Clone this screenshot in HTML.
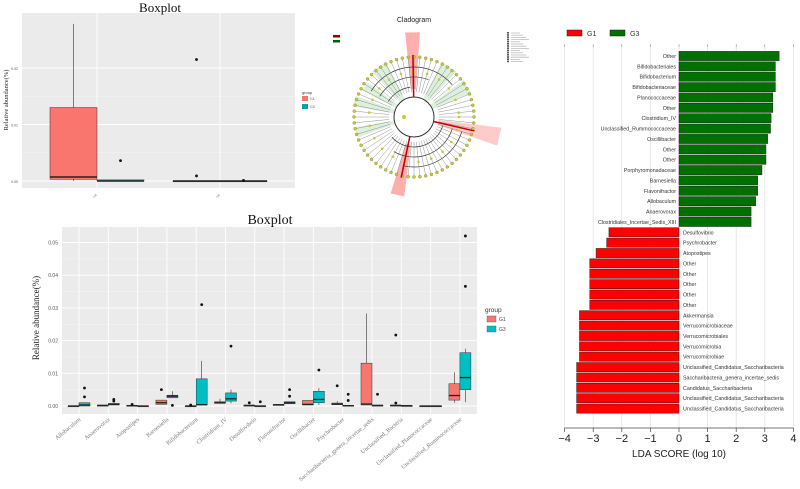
<!DOCTYPE html>
<html><head><meta charset="utf-8">
<style>
html,body{margin:0;padding:0;background:#fff;}
svg{display:block;font-family:"Liberation Sans",sans-serif;}
.serif{font-family:"Liberation Serif",serif;}
</style></head>
<body>
<svg id="fig" width="800" height="489" viewBox="0 0 800 489" xmlns="http://www.w3.org/2000/svg">
<g id="tl"></g>
<g id="clad"></g>
<g id="bb"></g>
<g id="lda"></g>
</svg>
<script>
// ---------- data: bottom boxplot ----------
const bbCategories=["Allobaculum","Anaerovorax","Atopostipes","Barnesiella","Bifidobacterium","Clostridium_IV","Desulfovibrio","Flavonifractor","Oscillibacter","Psychrobacter","Saccharibacteria_genera_incertae_sedis","Unclassified_Bacteria","Unclassified_Planococcaceae","Unclassified_Ruminococcaceae"];
// [lo,q1,med,q3,hi]
const bbG1=[[0,0,0,0,0],[0.0002,0.0002,0.0002,0.0002,0.0002],[0,0,0.0001,0.0002,0.0002],[0.0005,0.0005,0.001,0.0018,0.0018],[0,0,0,0,0],[0.0008,0.0008,0.001,0.0013,0.0022],[0.0002,0.0002,0.0002,0.0002,0.0002],[0.0004,0.0004,0.0004,0.0004,0.0004],[0.0003,0.0003,0.0005,0.0017,0.0017],[0.0004,0.0004,0.0006,0.0009,0.0015],[0.0003,0.0003,0.0006,0.0131,0.0283],[0.0002,0.0002,0.0002,0.0002,0.0002],[0,0,0,0,0],[0.001,0.0018,0.0032,0.0068,0.0103]];
const bbG3=[[0,0,0.0003,0.001,0.001],[0.0003,0.0003,0.0005,0.0008,0.0008],[0,0,0,0,0],[0.0025,0.0025,0.003,0.0033,0.0045],[0.0003,0.0003,0.0004,0.0083,0.0138],[0.0008,0.0015,0.0022,0.004,0.005],[0,0,0,0,0],[0.0007,0.0007,0.001,0.0013,0.0013],[0.0003,0.001,0.002,0.0045,0.0055],[0,0,0.0001,0.0002,0.0002],[0.0002,0.0002,0.0002,0.0002,0.0002],[0.0001,0.0001,0.0001,0.0001,0.0001],[0,0,0,0,0],[0.0012,0.005,0.0087,0.0163,0.0175]];
const bbOutG1=[[],[],[0.0005],[0.005],[0.0003],[],[0.001],[],[],[0.0062],[],[0.0217,0.0009],[],[]];
const bbOutG3=[[0.0055,0.0028],[0.002,0.0015],[],[0.0002],[0.031],[0.0183],[0.0013],[0.005,0.003],[0.011],[0.0036,0.0017],[0.0036],[],[],[0.052,0.0366]];
const bbTicks=[0,0.01,0.02,0.03,0.04,0.05];
const bbTickLabels=["0.00","0.01","0.02","0.03","0.04","0.05"];
// ---------- data: top boxplot ----------
const tlCategories=["c1","c2"];
const tlG1=[[0,0.0003,0.0007,0.013,0.0278],[0,0,0,0,0]];
const tlG3=[[0,0,0,0.0002,0.0002],[0,0,0,0,0]];
const tlOutG1=[[],[0.0215,0.0009]];
const tlOutG3=[[0.0036],[0.0001]];
const tlTicks=[0,0.01,0.02];
const tlTickLabels=["0.00","0.01","0.02"];
// ---------- data: LDA ----------
const ldaLabels=["Other","Bifidobacteriales","Bifidobacterium","Bifidobacteriaceae","Planococcaceae","Other","Clostridium_IV","Unclassified_Rummococcaceae","Oscillibacter","Other","Other","Porphyromonadaceae","Barnesiella","Flavonifractor","Allobaculum","Anaerovorax","Clostridiales_Incertae_Sedis_XIII","Desulfovibrio","Psychrobacter","Atopostipes","Other","Other","Other","Other","Other","Akkermansia","Verrucomicrobiaceae","Verrucomicrobiales","Verrucomicrobia","Verrucomicrobiae","Unclassified_Candidatus_Saccharibacteria","Saccharibacteria_genera_incertae_sedis","Candidatus_Saccharibacteria","Unclassified_Candidatus_Saccharibacteria","Unclassified_Candidatus_Saccharibacteria"];
const ldaScores=[3.5,3.37,3.37,3.37,3.28,3.28,3.22,3.2,3.1,3.04,3.04,2.9,2.75,2.75,2.68,2.52,2.52,-2.45,-2.53,-2.9,-3.12,-3.12,-3.12,-3.12,-3.12,-3.48,-3.48,-3.48,-3.48,-3.48,-3.58,-3.58,-3.58,-3.58,-3.58];
const ldaTicks=[-4,-3,-2,-1,0,1,2,3,4];
const ldaTickLabels=["\u22124","\u22123","\u22122","\u22121","0","1","2","3","4"];

const NS="http://www.w3.org/2000/svg";
function mk(parent,tag,attrs,text){const e=document.createElementNS(NS,tag);for(const k in attrs)e.setAttribute(k,attrs[k]);if(text!==undefined)e.textContent=text;parent.appendChild(e);return e;}

// generic boxplot
function boxplot(g,cfg){
  const {x0,x1,y0,y1,yOf,ticks,tickLabels,cats,g1,g3,o1,o3,catX,bw,fs,lw}=cfg;
  const p=mk(g,'rect',{x:x0,y:y0,width:x1-x0,height:y1-y0,fill:'#ebebeb'});
  
  
  for(let i=0;i<ticks.length;i++){
    const y=yOf(ticks[i]);
    mk(g,'line',{x1:x0,x2:x1,y1:y,y2:y,stroke:'#fff','stroke-width':0.9});
    if(i<ticks.length-1){const ym=yOf((ticks[i]+ticks[i+1])/2);mk(g,'line',{x1:x0,x2:x1,y1:ym,y2:ym,stroke:'#f5f5f5','stroke-width':0.5});}
    const t=mk(g,'text',{x:x0-4,y:y+2,'font-size':fs,'text-anchor':'end',fill:'#555'},tickLabels[i]);
    
    
  }
  for(let c=0;c<cats.length;c++){
    const cx=catX(c);
    mk(g,'line',{x1:cx,x2:cx,y1:y0,y2:y1,stroke:'#fff','stroke-width':0.9});
    [[g1,o1,'#f8766d',-1],[g3,o3,'#00bfc4',1]].forEach(([d,o,col,s])=>{
      const v=d[c];const bx=cx+s*bw/2;
      mk(g,'line',{x1:bx,x2:bx,y1:yOf(v[0]),y2:yOf(v[4]),stroke:'#333','stroke-width':0.6});
      const r=mk(g,'rect',{x:bx-bw/2,y:yOf(v[3]),width:bw,height:Math.max(0.8,yOf(v[1])-yOf(v[3])),fill:col,stroke:'#333','stroke-width':0.5});
      
      
      mk(g,'line',{x1:bx-bw/2,x2:bx+bw/2,y1:yOf(v[2]),y2:yOf(v[2]),stroke:'#222','stroke-width':lw});
      o[c].forEach(ov=>{const pt=mk(g,'circle',{cx:bx,cy:yOf(ov),r:1.4,fill:'#111'});});
    });
  }
}

// ---------- top-left boxplot ----------
(function(){
  const g=document.getElementById('tl');
  const yOf=v=>181-v*5650;
  boxplot(g,{x0:22,x1:295,y0:13,y1:188,yOf,ticks:tlTicks,tickLabels:tlTickLabels,cats:tlCategories,g1:tlG1,g3:tlG3,o1:tlOutG1,o3:tlOutG3,catX:c=>97+c*123,bw:47,fs:3.5,lw:1.5});
  const t=mk(g,'text',{x:160,y:12,'font-size':13,'text-anchor':'middle',class:'serif',fill:'#111'},'Boxplot');
  
  const yl=mk(g,'text',{x:0,y:0,'font-size':6.5,'text-anchor':'middle',class:'serif',fill:'#222',transform:'translate(8,100) rotate(-90)'},'Relative abundance(%)');
  
  mk(g,'text',{x:302,y:94,'font-size':4,fill:'#333'},'group');
  const l1=mk(g,'rect',{x:302,y:96,width:6,height:5,fill:'#f8766d'});
  mk(g,'text',{x:310,y:100,'font-size':3.5,fill:'#555'},'G1');
  const l2=mk(g,'rect',{x:302,y:104,width:6,height:5,fill:'#00a5a8'});
  mk(g,'text',{x:310,y:108,'font-size':3.5,fill:'#555'},'G3');
  tlCategories.forEach((c,i)=>{mk(g,'text',{x:97+i*123,y:195,'font-size':3,fill:'#777','text-anchor':'end',transform:`rotate(-45 ${97+i*123} 195)`},'cat');});
})();

// ---------- cladogram ----------
(function(){
  const g=document.getElementById('clad');
  const cx=414,cy=117;
  const t=mk(g,'text',{x:cx,y:22,'font-size':7,'text-anchor':'middle',fill:'#222'},'Cladogram');
  
  // red highlighted wedges
  function wedge(a,r0,r1,w,col,op){const a1=(a-w)*Math.PI/180,a2=(a+w)*Math.PI/180;
    const p=`M${cx+r0*Math.cos(a1)},${cy+r0*Math.sin(a1)} L${cx+r1*Math.cos(a1)},${cy+r1*Math.sin(a1)} L${cx+r1*Math.cos(a2)},${cy+r1*Math.sin(a2)} L${cx+r0*Math.cos(a2)},${cy+r0*Math.sin(a2)}Z`;
    return mk(g,'path',{d:p,fill:col,opacity:op});}
  wedge(-91,28,85,5,'#ff6b6b',0.55);
  wedge(13,25,88,6,'#ff8a8a',0.45);
  wedge(102,28,80,5,'#ff6b6b',0.55);
  [[-125,62,8],[-55,62,8],[-30,62,7],[-165,62,5],[165,60,5],[-148,58,5]].forEach(([a,r,w])=>wedge(a,20,r,w,'#9fd49f',0.35));
  mk(g,'circle',{cx,cy,r:20,fill:'none',stroke:'#333','stroke-width':1});
  [30,40,50].forEach((r,i)=>{mk(g,'path',{d:`M${cx+r*Math.cos(-2.6)},${cy+r*Math.sin(-2.6)} A${r},${r} 0 0 1 ${cx+r*Math.cos(-1.7+i*0.5)},${cy+r*Math.sin(-1.7+i*0.5)}`,fill:'none',stroke:'#333','stroke-width':0.7});
    mk(g,'path',{d:`M${cx+r*Math.cos(0.3)},${cy+r*Math.sin(0.3)} A${r},${r} 0 0 1 ${cx+r*Math.cos(2.4-i*0.3)},${cy+r*Math.sin(2.4-i*0.3)}`,fill:'none',stroke:'#333','stroke-width':0.7});});
  for(let k=0;k<64;k++){const a=k/64*2*Math.PI;
    mk(g,'line',{x1:cx+25*Math.cos(a),y1:cy+25*Math.sin(a),x2:cx+60*Math.cos(a),y2:cy+60*Math.sin(a),stroke:'#666','stroke-width':0.35});
    mk(g,'circle',{cx:cx+60*Math.cos(a),cy:cy+60*Math.sin(a),r:1.5,fill:'#c8c83a',stroke:'#6b6b20','stroke-width':0.3});
    if(k%3==0)mk(g,'circle',{cx:cx+45*Math.cos(a),cy:cy+45*Math.sin(a),r:1.3,fill:'#c8c83a'});}
  [[-91,'#b00000'],[13,'#b00000'],[102,'#b00000']].forEach(([a])=>{const r=a*Math.PI/180;mk(g,'line',{x1:cx+20*Math.cos(r),y1:cy+20*Math.sin(r),x2:cx+62*Math.cos(r),y2:cy+62*Math.sin(r),stroke:'#c00000','stroke-width':1.5});});
  mk(g,'circle',{cx:cx-10,cy:cy,r:2,fill:'#c8c83a'});
  mk(g,'rect',{x:333,y:35,width:7,height:2.5,fill:'#8b0000'});
  mk(g,'rect',{x:333,y:40,width:7,height:2.5,fill:'#006400'});
  for(let i=0;i<14;i++)mk(g,'rect',{x:507,y:32+i*2.2,width:2,height:1.6,fill:'#555'});
  for(let i=0;i<14;i++)mk(g,'line',{x1:511,x2:520+(i%4)*3,y1:33+i*2.2,y2:33+i*2.2,stroke:'#bbb','stroke-width':0.8});
})();

// ---------- bottom boxplot ----------
(function(){
  const g=document.getElementById('bb');
  const yOf=v=>406-v*3270;
  const catX=c=>79+c*29.3;
  boxplot(g,{x0:62,x1:477,y0:227,y1:414,yOf,ticks:bbTicks,tickLabels:bbTickLabels,cats:bbCategories,g1:bbG1,g3:bbG3,o1:bbOutG1,o3:bbOutG3,catX,bw:11,fs:5,lw:1.3});
  const t=mk(g,'text',{x:270,y:224,'font-size':14,'text-anchor':'middle',class:'serif',fill:'#111'},'Boxplot');
  
  const yl=mk(g,'text',{x:0,y:0,'font-size':9,'text-anchor':'middle',class:'serif',fill:'#222',transform:'translate(39,318) rotate(-90)'},'Relative abundance(%)');
  
  bbCategories.forEach((c,i)=>{const x=catX(i)+2,y=420;
    const tl=mk(g,'text',{x,y,'font-size':6,class:'serif',fill:'#777','text-anchor':'end',transform:`rotate(-40 ${x} ${y})`},c);
    });
  mk(g,'text',{x:485,y:312,'font-size':6.5,fill:'#333'},'group');
  const l1=mk(g,'rect',{x:487,y:316,width:9,height:6,fill:'#f8766d',stroke:'#555','stroke-width':0.4});
  mk(g,'text',{x:499,y:321,'font-size':5,fill:'#444'},'G1');
  const l2=mk(g,'rect',{x:487,y:326,width:9,height:6,fill:'#00bfc4',stroke:'#555','stroke-width':0.4});
  mk(g,'text',{x:499,y:331,'font-size':5,fill:'#444'},'G3');
})();

// ---------- LDA ----------
(function(){
  const g=document.getElementById('lda');
  const xOf=v=>679+v*28.6;
  const yOf=i=>56+i*10.37;
  ldaTicks.forEach((t,i)=>{const x=xOf(t);
    mk(g,'line',{x1:x,x2:x,y1:45,y2:428,stroke:'#e2e2e2','stroke-width':0.8});
    mk(g,'line',{x1:x,x2:x,y1:428,y2:432,stroke:'#444','stroke-width':0.7});
    mk(g,'line',{x1:x,x2:x,y1:44,y2:47,stroke:'#888','stroke-width':0.5});
    const tl=mk(g,'text',{x,y:442,'font-size':11,'text-anchor':'middle',fill:'#222'},ldaTickLabels[i]);
    });
  mk(g,'line',{x1:xOf(-4),x2:xOf(4),y1:428,y2:428,stroke:'#444','stroke-width':0.7});
  ldaScores.forEach((s,i)=>{const y=yOf(i);const pos=s>0;
    const x=pos?xOf(0):xOf(s),w=Math.abs(xOf(s)-xOf(0));
    const b=mk(g,'rect',{x,y:y-4.6,width:w,height:9.2,fill:pos?'#007000':'#ff0000',stroke:'#222','stroke-width':0.5});
    
    
    const lb=mk(g,'text',{x:pos?676:683,y:y+2,'font-size':5.3,'text-anchor':pos?'end':'start',fill:'#333'},ldaLabels[i]);
    });
  const at=mk(g,'text',{x:679,y:457,'font-size':10,'text-anchor':'middle',fill:'#222'},'LDA SCORE (log 10)');
  
  const r1=mk(g,'rect',{x:567,y:30,width:15,height:6,fill:'#ff0000',stroke:'#222','stroke-width':0.5});
  mk(g,'text',{x:587,y:36,'font-size':7,fill:'#333'},'G1');
  const r2=mk(g,'rect',{x:610,y:30,width:15,height:6,fill:'#007000',stroke:'#222','stroke-width':0.5});
  mk(g,'text',{x:630,y:36,'font-size':7,fill:'#333'},'G3');
})();
</script>
</body></html>
